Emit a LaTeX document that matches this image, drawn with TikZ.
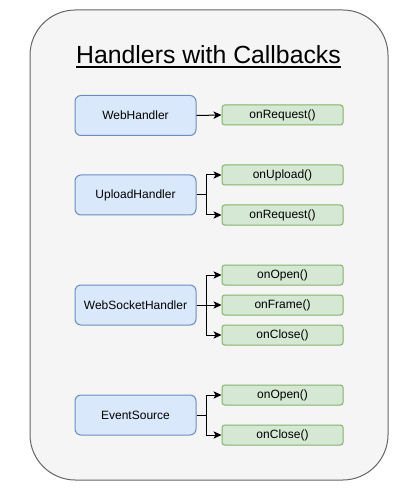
\documentclass[tikz,border=0pt]{standalone}
\usepackage{fontspec}
\setmainfont{Liberation Sans}
\usetikzlibrary{arrows.meta}
\definecolor{bgfill}{HTML}{F5F5F5}
\definecolor{bgline}{HTML}{666666}
\definecolor{bluefill}{HTML}{DAE8FC}
\definecolor{blueline}{HTML}{6C8EBF}
\definecolor{greenfill}{HTML}{D5E8D4}
\definecolor{greenline}{HTML}{82B366}
\tikzset{
  handler/.style={draw=blueline, fill=bluefill, rounded corners=4.5pt, line width=0.75pt,
    minimum width=90.75pt, minimum height=30pt, inner sep=0pt, font=\fontsize{9}{11}\selectfont},
  callback/.style={draw=greenline, fill=greenfill, rounded corners=2pt, line width=0.75pt,
    minimum width=90.75pt, minimum height=15pt, inner sep=0pt, font=\fontsize{9}{11}\selectfont},
  conn/.style={draw=black, line width=0.75pt, -{Stealth[length=6pt,width=5.5pt,inset=1.5pt]}},
}
\begin{document}
\begin{tikzpicture}[x=0.75pt,y=-0.75pt]
\useasboundingbox (0,0) rectangle (418,491);
\draw[draw=bgline, fill=bgfill, line width=0.75pt, rounded corners=34pt] (30,10) rectangle (388,480);
\node[inner sep=0pt, font=\fontsize{18.6}{22}\selectfont] (title) at (208.5,55) {Handlers with Callbacks};
\draw[line width=1.4pt] ([yshift=-2.6pt]title.base west) -- ([yshift=-2.6pt]title.base east);

\node[handler] (wh) at (135.5,115.5) {WebHandler};
\node[handler] (uh) at (135.5,195) {UploadHandler};
\node[handler] (ws) at (135.5,305) {WebSocketHandler};
\node[handler] (es) at (135.5,415) {EventSource};

\node[callback] (whreq) at (282.5,115) {onRequest()};
\node[callback] (uhup) at (282.5,175) {onUpload()};
\node[callback] (uhreq) at (282.5,215) {onRequest()};
\node[callback] (wsopen) at (282.5,275) {onOpen()};
\node[callback] (wsframe) at (282.5,305) {onFrame()};
\node[callback] (wsclose) at (282.5,335) {onClose()};
\node[callback] (esopen) at (282.5,395) {onOpen()};
\node[callback] (esclose) at (282.5,435) {onClose()};

\draw[conn] (wh.east) -- (whreq.west);
\draw[conn] (uh.east) -- ++(10,0) |- (uhup.west);
\draw[conn] (uh.east) -- ++(10,0) |- (uhreq.west);
\draw[conn] (ws.east) -- ++(10,0) |- (wsopen.west);
\draw[conn] (ws.east) -- (wsframe.west);
\draw[conn] (ws.east) -- ++(10,0) |- (wsclose.west);
\draw[conn] (es.east) -- ++(10,0) |- (esopen.west);
\draw[conn] (es.east) -- ++(10,0) |- (esclose.west);
\end{tikzpicture}
\end{document}
